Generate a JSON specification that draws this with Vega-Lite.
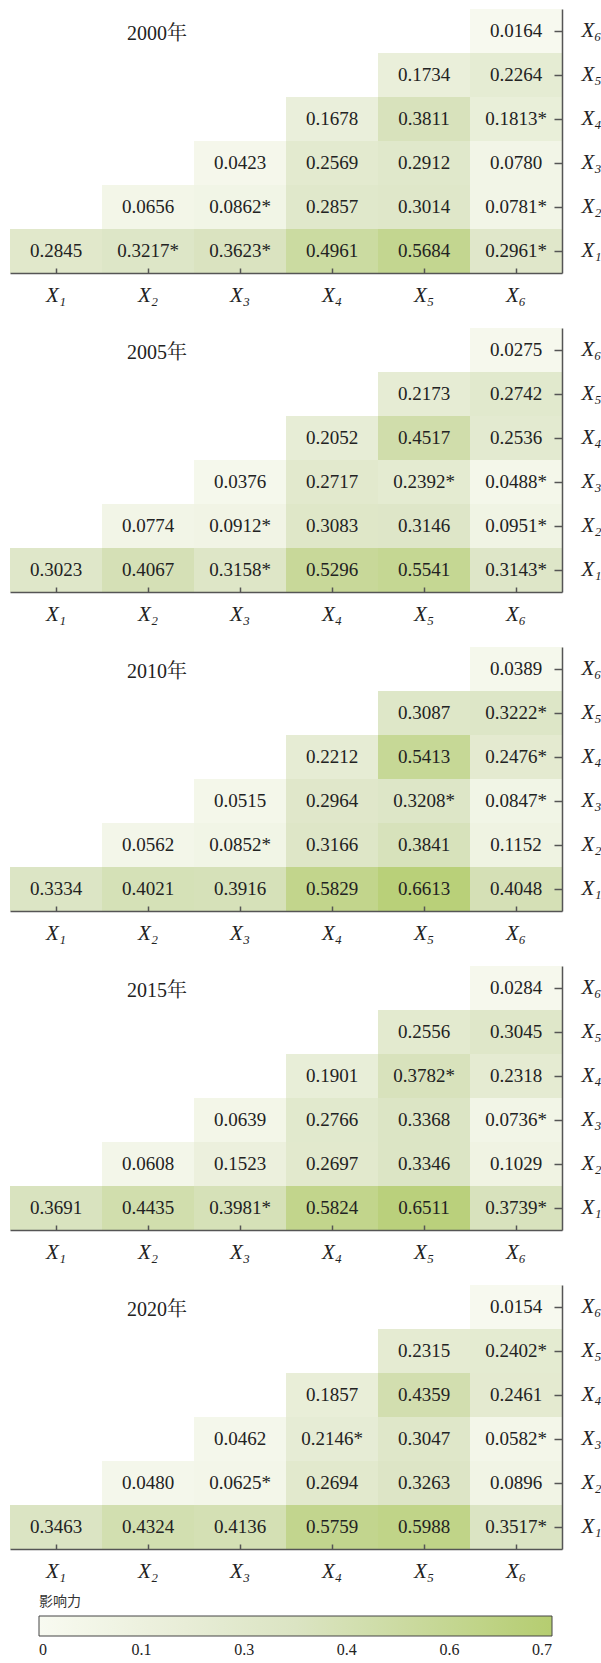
{
  "$schema": "https://vega.github.io/schema/vega-lite/v6.json",
  "padding": {"left": 10, "top": 9, "right": 0, "bottom": 0},
  "background": "white",
  "data": {"values": [
    {"year":"2000年","c":"X₆","r":"X₆","v":0.0164,"s":""},
    {"year":"2000年","c":"X₅","r":"X₅","v":0.1734,"s":""},
    {"year":"2000年","c":"X₆","r":"X₅","v":0.2264,"s":""},
    {"year":"2000年","c":"X₄","r":"X₄","v":0.1678,"s":""},
    {"year":"2000年","c":"X₅","r":"X₄","v":0.3811,"s":""},
    {"year":"2000年","c":"X₆","r":"X₄","v":0.1813,"s":"*"},
    {"year":"2000年","c":"X₃","r":"X₃","v":0.0423,"s":""},
    {"year":"2000年","c":"X₄","r":"X₃","v":0.2569,"s":""},
    {"year":"2000年","c":"X₅","r":"X₃","v":0.2912,"s":""},
    {"year":"2000年","c":"X₆","r":"X₃","v":0.0780,"s":""},
    {"year":"2000年","c":"X₂","r":"X₂","v":0.0656,"s":""},
    {"year":"2000年","c":"X₃","r":"X₂","v":0.0862,"s":"*"},
    {"year":"2000年","c":"X₄","r":"X₂","v":0.2857,"s":""},
    {"year":"2000年","c":"X₅","r":"X₂","v":0.3014,"s":""},
    {"year":"2000年","c":"X₆","r":"X₂","v":0.0781,"s":"*"},
    {"year":"2000年","c":"X₁","r":"X₁","v":0.2845,"s":""},
    {"year":"2000年","c":"X₂","r":"X₁","v":0.3217,"s":"*"},
    {"year":"2000年","c":"X₃","r":"X₁","v":0.3623,"s":"*"},
    {"year":"2000年","c":"X₄","r":"X₁","v":0.4961,"s":""},
    {"year":"2000年","c":"X₅","r":"X₁","v":0.5684,"s":""},
    {"year":"2000年","c":"X₆","r":"X₁","v":0.2961,"s":"*"},

    {"year":"2005年","c":"X₆","r":"X₆","v":0.0275,"s":""},
    {"year":"2005年","c":"X₅","r":"X₅","v":0.2173,"s":""},
    {"year":"2005年","c":"X₆","r":"X₅","v":0.2742,"s":""},
    {"year":"2005年","c":"X₄","r":"X₄","v":0.2052,"s":""},
    {"year":"2005年","c":"X₅","r":"X₄","v":0.4517,"s":""},
    {"year":"2005年","c":"X₆","r":"X₄","v":0.2536,"s":""},
    {"year":"2005年","c":"X₃","r":"X₃","v":0.0376,"s":""},
    {"year":"2005年","c":"X₄","r":"X₃","v":0.2717,"s":""},
    {"year":"2005年","c":"X₅","r":"X₃","v":0.2392,"s":"*"},
    {"year":"2005年","c":"X₆","r":"X₃","v":0.0488,"s":"*"},
    {"year":"2005年","c":"X₂","r":"X₂","v":0.0774,"s":""},
    {"year":"2005年","c":"X₃","r":"X₂","v":0.0912,"s":"*"},
    {"year":"2005年","c":"X₄","r":"X₂","v":0.3083,"s":""},
    {"year":"2005年","c":"X₅","r":"X₂","v":0.3146,"s":""},
    {"year":"2005年","c":"X₆","r":"X₂","v":0.0951,"s":"*"},
    {"year":"2005年","c":"X₁","r":"X₁","v":0.3023,"s":""},
    {"year":"2005年","c":"X₂","r":"X₁","v":0.4067,"s":""},
    {"year":"2005年","c":"X₃","r":"X₁","v":0.3158,"s":"*"},
    {"year":"2005年","c":"X₄","r":"X₁","v":0.5296,"s":""},
    {"year":"2005年","c":"X₅","r":"X₁","v":0.5541,"s":""},
    {"year":"2005年","c":"X₆","r":"X₁","v":0.3143,"s":"*"},

    {"year":"2010年","c":"X₆","r":"X₆","v":0.0389,"s":""},
    {"year":"2010年","c":"X₅","r":"X₅","v":0.3087,"s":""},
    {"year":"2010年","c":"X₆","r":"X₅","v":0.3222,"s":"*"},
    {"year":"2010年","c":"X₄","r":"X₄","v":0.2212,"s":""},
    {"year":"2010年","c":"X₅","r":"X₄","v":0.5413,"s":""},
    {"year":"2010年","c":"X₆","r":"X₄","v":0.2476,"s":"*"},
    {"year":"2010年","c":"X₃","r":"X₃","v":0.0515,"s":""},
    {"year":"2010年","c":"X₄","r":"X₃","v":0.2964,"s":""},
    {"year":"2010年","c":"X₅","r":"X₃","v":0.3208,"s":"*"},
    {"year":"2010年","c":"X₆","r":"X₃","v":0.0847,"s":"*"},
    {"year":"2010年","c":"X₂","r":"X₂","v":0.0562,"s":""},
    {"year":"2010年","c":"X₃","r":"X₂","v":0.0852,"s":"*"},
    {"year":"2010年","c":"X₄","r":"X₂","v":0.3166,"s":""},
    {"year":"2010年","c":"X₅","r":"X₂","v":0.3841,"s":""},
    {"year":"2010年","c":"X₆","r":"X₂","v":0.1152,"s":""},
    {"year":"2010年","c":"X₁","r":"X₁","v":0.3334,"s":""},
    {"year":"2010年","c":"X₂","r":"X₁","v":0.4021,"s":""},
    {"year":"2010年","c":"X₃","r":"X₁","v":0.3916,"s":""},
    {"year":"2010年","c":"X₄","r":"X₁","v":0.5829,"s":""},
    {"year":"2010年","c":"X₅","r":"X₁","v":0.6613,"s":""},
    {"year":"2010年","c":"X₆","r":"X₁","v":0.4048,"s":""},

    {"year":"2015年","c":"X₆","r":"X₆","v":0.0284,"s":""},
    {"year":"2015年","c":"X₅","r":"X₅","v":0.2556,"s":""},
    {"year":"2015年","c":"X₆","r":"X₅","v":0.3045,"s":""},
    {"year":"2015年","c":"X₄","r":"X₄","v":0.1901,"s":""},
    {"year":"2015年","c":"X₅","r":"X₄","v":0.3782,"s":"*"},
    {"year":"2015年","c":"X₆","r":"X₄","v":0.2318,"s":""},
    {"year":"2015年","c":"X₃","r":"X₃","v":0.0639,"s":""},
    {"year":"2015年","c":"X₄","r":"X₃","v":0.2766,"s":""},
    {"year":"2015年","c":"X₅","r":"X₃","v":0.3368,"s":""},
    {"year":"2015年","c":"X₆","r":"X₃","v":0.0736,"s":"*"},
    {"year":"2015年","c":"X₂","r":"X₂","v":0.0608,"s":""},
    {"year":"2015年","c":"X₃","r":"X₂","v":0.1523,"s":""},
    {"year":"2015年","c":"X₄","r":"X₂","v":0.2697,"s":""},
    {"year":"2015年","c":"X₅","r":"X₂","v":0.3346,"s":""},
    {"year":"2015年","c":"X₆","r":"X₂","v":0.1029,"s":""},
    {"year":"2015年","c":"X₁","r":"X₁","v":0.3691,"s":""},
    {"year":"2015年","c":"X₂","r":"X₁","v":0.4435,"s":""},
    {"year":"2015年","c":"X₃","r":"X₁","v":0.3981,"s":"*"},
    {"year":"2015年","c":"X₄","r":"X₁","v":0.5824,"s":""},
    {"year":"2015年","c":"X₅","r":"X₁","v":0.6511,"s":""},
    {"year":"2015年","c":"X₆","r":"X₁","v":0.3739,"s":"*"},

    {"year":"2020年","c":"X₆","r":"X₆","v":0.0154,"s":""},
    {"year":"2020年","c":"X₅","r":"X₅","v":0.2315,"s":""},
    {"year":"2020年","c":"X₆","r":"X₅","v":0.2402,"s":"*"},
    {"year":"2020年","c":"X₄","r":"X₄","v":0.1857,"s":""},
    {"year":"2020年","c":"X₅","r":"X₄","v":0.4359,"s":""},
    {"year":"2020年","c":"X₆","r":"X₄","v":0.2461,"s":""},
    {"year":"2020年","c":"X₃","r":"X₃","v":0.0462,"s":""},
    {"year":"2020年","c":"X₄","r":"X₃","v":0.2146,"s":"*"},
    {"year":"2020年","c":"X₅","r":"X₃","v":0.3047,"s":""},
    {"year":"2020年","c":"X₆","r":"X₃","v":0.0582,"s":"*"},
    {"year":"2020年","c":"X₂","r":"X₂","v":0.0480,"s":""},
    {"year":"2020年","c":"X₃","r":"X₂","v":0.0625,"s":"*"},
    {"year":"2020年","c":"X₄","r":"X₂","v":0.2694,"s":""},
    {"year":"2020年","c":"X₅","r":"X₂","v":0.3263,"s":""},
    {"year":"2020年","c":"X₆","r":"X₂","v":0.0896,"s":""},
    {"year":"2020年","c":"X₁","r":"X₁","v":0.3463,"s":""},
    {"year":"2020年","c":"X₂","r":"X₁","v":0.4324,"s":""},
    {"year":"2020年","c":"X₃","r":"X₁","v":0.4136,"s":""},
    {"year":"2020年","c":"X₄","r":"X₁","v":0.5759,"s":""},
    {"year":"2020年","c":"X₅","r":"X₁","v":0.5988,"s":""},
    {"year":"2020年","c":"X₆","r":"X₁","v":0.3517,"s":"*"}
  ]},
  "transform": [{"calculate": "format(datum.v, '.4f') + datum.s", "as": "label"}],
  "facet": {"row": {"field": "year", "type": "nominal", "header": null, "sort": ["2000年","2005年","2010年","2015年","2020年"]}},
  "spacing": 23,
  "resolve": {"axis": {"x": "independent", "y": "independent"}},
  "spec": {
    "width": 552,
    "height": 264,
    "encoding": {
      "x": {"field": "c", "type": "nominal", "scale": {"domain": ["X₁","X₂","X₃","X₄","X₅","X₆"], "paddingInner": 0, "paddingOuter": 0},
            "axis": {"orient": "bottom", "title": null, "labelAngle": 0, "tickSize": -5, "labelPadding": 16}},
      "y": {"field": "r", "type": "nominal", "scale": {"domain": ["X₆","X₅","X₄","X₃","X₂","X₁"], "paddingInner": 0, "paddingOuter": 0},
            "axis": {"orient": "right", "title": null, "tickSize": -8, "labelPadding": 27}}
    },
    "layer": [
      {"mark": {"type": "rect", "strokeWidth": 0},
       "encoding": {"color": {"field": "v", "type": "quantitative",
          "scale": {"domain": [0, 0.7], "range": ["#f8faf1", "#dbe4c3", "#b5cd70"]},
          "legend": {"title": "影响力", "orient": "none", "direction": "horizontal", "legendX": 29, "legendY": 1586,
                     "gradientLength": 513, "gradientThickness": 20, "gradientStrokeColor": "#444", "gradientStrokeWidth": 1,
                     "values": [0, 0.14, 0.28, 0.42, 0.56, 0.7],
                     "labelExpr": "datum.value == 0 ? '0' : format(datum.value, '.1f')",
                     "titleFont": "Noto Sans CJK SC", "titleFontSize": 14, "titleFontWeight": "normal", "titleColor": "#333", "titlePadding": 7,
                     "labelFont": "Liberation Serif, Times New Roman, serif", "labelFontSize": 16, "labelColor": "#222", "labelOffset": 6, "labelOverlap": false}}}},
      {"mark": {"type": "text", "font": "Liberation Serif, Times New Roman, serif", "fontSize": 19, "color": "#222"},
       "encoding": {"text": {"field": "label"}}},
      {"transform": [{"filter": "datum.c == 'X₆' && datum.r == 'X₆'"}],
       "mark": {"type": "text", "font": "Liberation Serif, Times New Roman, Noto Serif CJK SC, Noto Sans CJK SC, serif", "fontSize": 20, "color": "#222", "dx": 9, "dy": 3},
       "encoding": {"x": {"datum": "X₂"}, "y": {"datum": "X₆"}, "text": {"field": "year"}}}
    ]
  },
  "config": {
    "view": {"stroke": null},
    "axis": {"grid": false, "domainColor": "#555", "domainWidth": 1.5, "tickColor": "#555", "tickWidth": 1.5,
             "labelFont": "Liberation Serif, Times New Roman, serif", "labelFontStyle": "italic", "labelFontSize": 21, "labelColor": "#222"}
  }
}
